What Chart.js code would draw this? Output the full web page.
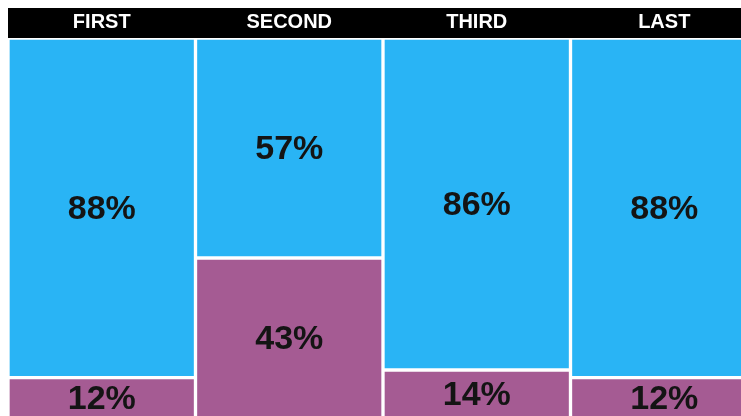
<!DOCTYPE html>
<html>
<head>
<meta charset="utf-8">
<script src="https://cdn.jsdelivr.net/npm/chart.js@4"></script>
<style>
  html, body { margin: 0; padding: 0; background: #fff; overflow: hidden; }
  #wrap { position: relative; width: 758px; height: 424px; }
</style>
</head>
<body>
<div id="wrap"><canvas id="chart"></canvas></div>
<script>
/* --------------- Data --------------------- */
const categories = ["FIRST", "SECOND", "THIRD", "LAST"];
const topValues = [88, 57, 86, 88];
const bottomValues = [12, 43, 14, 12];

const blue = "#29b4f5";
const purple = "#a55b93";

/* --------------- Black header behind the top axis --------------------- */
const headerBand = {
  id: "headerBand",
  beforeDraw(chart) {
    const x = chart.scales.x;
    const ctx = chart.ctx;
    ctx.save();
    ctx.fillStyle = "#000";
    ctx.fillRect(x.left, x.top, chart.width - x.left, x.bottom - x.top);
    ctx.restore();
  },
};

/* --------------- Percent labels in the middle of each piece --------------------- */
const pieceLabels = {
  id: "pieceLabels",
  afterDatasetsDraw(chart) {
    const ctx = chart.ctx;
    ctx.save();
    ctx.fillStyle = "#141414";
    ctx.font = "bold 34px 'Liberation Sans', Arial, sans-serif";
    ctx.textAlign = "center";
    ctx.textBaseline = "middle";
    chart.data.datasets.forEach((ds, di) => {
      chart.getDatasetMeta(di).data.forEach((bar, i) => {
        const mid = (bar.y + bar.base) / 2;
        // bottom pieces run off the page, their labels sit a bit higher
        ctx.fillText(ds.data[i] + "%", bar.x, di == 0 ? mid + 2 : mid - 1);
      });
    });
    ctx.restore();
  },
};

new Chart(document.getElementById("chart"), {
  type: "bar",
  data: {
    labels: categories,
    datasets: [
      { data: topValues, backgroundColor: blue },
      { data: bottomValues, backgroundColor: purple },
    ],
  },
  plugins: [headerBand, pieceLabels],
  options: {
    responsive: true,
    maintainAspectRatio: false,
    animation: false,
    layout: { padding: { top: 8, left: 8, right: 0, bottom: 0 } },
    datasets: {
      bar: {
        borderColor: "#fff",
        borderWidth: 2,
        borderSkipped: false,
        barPercentage: 1,
        categoryPercentage: 1,
      },
    },
    plugins: { legend: { display: false }, tooltip: { enabled: false } },
    scales: {
      x: {
        position: "top",
        stacked: true,
        grid: { display: false, drawTicks: false },
        border: { display: false },
        ticks: {
          color: "#fff",
          padding: 4,
          font: { family: "'Liberation Sans', Arial, sans-serif", size: 20, weight: "bold" },
        },
        afterFit: (s) => { s.height = 30; },
      },
      y: {
        display: false,
        stacked: true,
        min: 0,
        max: 100,
        reverse: true,
      },
    },
  },
});
</script>
</body>
</html>
